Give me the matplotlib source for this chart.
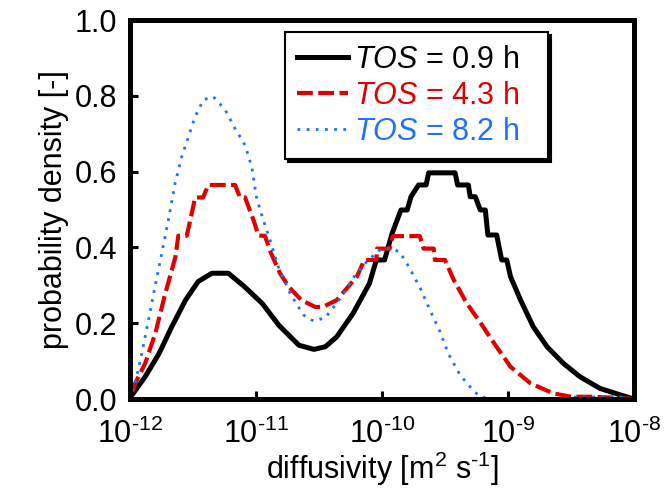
import numpy as np
import matplotlib
matplotlib.use('Agg')
import matplotlib.pyplot as plt
from matplotlib.ticker import FixedLocator, FixedFormatter

plt.rcParams['font.family'] = ['Liberation Sans', 'DejaVu Sans']
plt.rcParams['mathtext.fontset'] = 'custom'
plt.rcParams['mathtext.rm'] = 'Liberation Sans'
plt.rcParams['mathtext.it'] = 'Liberation Sans:italic'
plt.rcParams['mathtext.default'] = 'regular'

# log10 of diffusivity [m2/s] and probability density for each time on stream
logd_09 = [-12.00, -11.99, -11.88, -11.77, -11.67, -11.56, -11.46, -11.35, -11.22,
           -11.09, -10.95, -10.82, -10.66, -10.54, -10.45, -10.36, -10.23, -10.10,
           -10.045, -9.98, -9.92, -9.85, -9.80, -9.77, -9.71, -9.65, -9.63, -9.42,
           -9.40, -9.315, -9.30, -9.26, -9.22, -9.18, -9.16, -9.09, -9.05, -9.01,
           -8.98, -8.90, -8.80, -8.69, -8.56, -8.43, -8.27, -8.11, -8.00]
pd_09 = [0.000, 0.008, 0.059, 0.120, 0.190, 0.261, 0.310, 0.332, 0.332,
         0.296, 0.252, 0.195, 0.142, 0.131, 0.138, 0.164, 0.226, 0.305,
         0.367, 0.367, 0.437, 0.499, 0.499, 0.534, 0.565, 0.565, 0.597, 0.597,
         0.565, 0.565, 0.534, 0.534, 0.499, 0.499, 0.433, 0.433, 0.367, 0.367,
         0.323, 0.261, 0.191, 0.138, 0.094, 0.059, 0.028, 0.011, 0.000]

logd_43 = [-11.98, -11.96, -11.88, -11.80, -11.72, -11.64, -11.617, -11.55, -11.51,
           -11.484, -11.42, -11.38, -11.167, -11.127, -11.087, -11.02, -10.98, -10.93,
           -10.88, -10.81, -10.74, -10.64, -10.53, -10.47, -10.36, -10.20, -10.14,
           -10.045, -10.04, -9.94, -9.915, -9.70, -9.67, -9.59, -9.58, -9.50, -9.43,
           -9.33, -9.22, -9.11, -8.98, -8.82, -8.64, -8.50, -8.35, -8.11, -8.00]
pd_43 = [0.020, 0.041, 0.094, 0.173, 0.279, 0.375, 0.431, 0.431, 0.490,
         0.532, 0.532, 0.565, 0.565, 0.532, 0.532, 0.472, 0.431, 0.431,
         0.384, 0.332, 0.296, 0.261, 0.243, 0.243, 0.261, 0.323, 0.367,
         0.367, 0.397, 0.397, 0.430, 0.430, 0.397, 0.397, 0.367, 0.367, 0.314,
         0.254, 0.202, 0.147, 0.085, 0.041, 0.015, 0.006, 0.006, 0.003, 0.000]

logd_82 = [-11.98, -11.96, -11.907, -11.854, -11.802, -11.749, -11.696, -11.643, -11.59,
           -11.537, -11.484, -11.418, -11.339, -11.246, -11.167, -11.087, -11.034, -10.995,
           -10.942, -10.889, -10.823, -10.73, -10.624, -10.545, -10.452, -10.32, -10.214,
           -10.11, -10.002, -9.937, -9.86, -9.78, -9.69, -9.62, -9.54, -9.474, -9.38,
           -9.30, -9.23, -9.15, -8.55, -8.50, -8.10, -8.00]
pd_82 = [0.020, 0.041, 0.120, 0.208, 0.296, 0.384, 0.472, 0.569, 0.639,
         0.692, 0.745, 0.790, 0.798, 0.764, 0.714, 0.670, 0.613, 0.529,
         0.472, 0.420, 0.349, 0.279, 0.222, 0.206, 0.214, 0.270, 0.327,
         0.367, 0.397, 0.397, 0.389, 0.345, 0.288, 0.235, 0.178, 0.120, 0.063,
         0.032, 0.008, 0.000, 0.000, 0.005, 0.005, 0.000]

labels = ['0.9', '4.3', '8.2']
colors = ['black', '#E00000', '#2070FF']
xdecades = [-12, -11, -10, -9, -8]
yticks = [0.0, 0.2, 0.4, 0.6, 0.8, 1.0]

fs = 22
fig, ax = plt.subplots(figsize=(6.67, 4.92), dpi=100)
fig.subplots_adjust(left=0.195, right=0.9505, top=0.959, bottom=0.189)

ax.plot(10.0 ** np.array(logd_09), pd_09, color=colors[0], lw=3.6,
        label=r'$\it{TOS}$ = %s h' % labels[0])
ax.plot(10.0 ** np.array(logd_43), pd_43, color=colors[1], lw=3.0,
        linestyle=(0, (3.8, 1.3)), label=r'$\it{TOS}$ = %s h' % labels[1])
ax.plot(10.0 ** np.array(logd_82), pd_82, color=colors[2], lw=2.0,
        linestyle=(0, (1, 2.3)), label=r'$\it{TOS}$ = %s h' % labels[2])

ax.set_xscale('log')
ax.set_xlim(1e-12, 1e-8)
ax.set_ylim(0, 1.0)
ax.xaxis.set_major_locator(FixedLocator([10.0 ** d for d in xdecades]))
ax.xaxis.set_major_formatter(FixedFormatter([r'10$^{\text{%d}}$' % d for d in xdecades]))
ax.set_yticks(yticks)
ax.set_yticklabels(['%.1f' % v for v in yticks])
ax.minorticks_off()
ax.tick_params(direction='in', length=6, width=2.2, labelsize=fs,
               top=False, right=False)
ax.tick_params(axis='x', pad=14)
ax.tick_params(axis='y', pad=9)
for sp in ax.spines.values():
    sp.set_linewidth(3.6)

ax.set_xlabel(r'diffusivity [m$^2$ s$^{\text{-1}}$]', fontsize=fs, labelpad=0)
ax.set_ylabel('probability density [-]', fontsize=fs, labelpad=4)

leg = ax.legend(loc='upper left', bbox_to_anchor=(0.3075, 0.868, 0.522, 0.1),
                mode='expand', borderaxespad=0,
                fontsize=fs, fancybox=False, handlelength=1.65, handletextpad=0.2,
                labelspacing=0.2, borderpad=0.4,
                shadow={'color': 'black', 'alpha': 1, 'ox': 2, 'oy': -2})
leg.get_frame().set_edgecolor('black')
leg.get_frame().set_linewidth(1.5)
for txt, c in zip(leg.get_texts(), colors):
    txt.set_color(c)

fig.savefig('out.png', dpi=100)
